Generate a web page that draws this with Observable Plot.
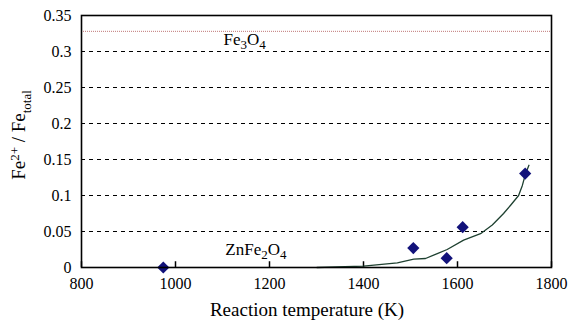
<!DOCTYPE html>
<html>
<head>
<meta charset="utf-8">
<script src="https://cdn.jsdelivr.net/npm/d3@7"></script>
<script src="https://cdn.jsdelivr.net/npm/@observablehq/plot@0.6"></script>
<style>
  html, body { margin: 0; padding: 0; background: white; }
  #chart svg { display: block; }
  #chart svg, #chart svg text, #chart svg tspan { font-family: "Liberation Serif", "Times New Roman", serif !important; }
</style>
</head>
<body>
<div id="chart"></div>
<script>
// Measured points (reaction temperature K, Fe2+/Fetotal)
const pointTemps = [974, 1506, 1577, 1611, 1744];
const pointValues = [0.0, 0.027, 0.013, 0.056, 0.1305];

// Model curve
const curveTemps = [1301, 1400, 1472, 1507, 1532, 1557, 1578, 1613, 1649, 1674, 1698, 1713, 1730, 1738, 1745, 1752];
const curveValues = [0.0, 0.0018, 0.0064, 0.0115, 0.0125, 0.0194, 0.025, 0.038, 0.047, 0.059, 0.075, 0.0865, 0.1, 0.114, 0.1305, 0.142];

// Axes
const xTicks = [800, 1000, 1200, 1400, 1600, 1800];
const yTicks = [0, 0.05, 0.1, 0.15, 0.2, 0.25, 0.3, 0.35];
const yTickLabels = ["0", "0.05", "0.1", "0.15", "0.2", "0.25", "0.3", "0.35"];
const gridValues = [0.05, 0.1, 0.15, 0.2, 0.25, 0.3];
const fe3o4Level = [0.328];

// Annotations
const labelNames = ["Fe3O4", "ZnFe2O4"];
const labelTemps = [1102, 1106];
const labelValues = [0.317, 0.0245];

const points = pointTemps.map((t, i) => ({t, v: pointValues[i]}));
const curve = curveTemps.map((t, i) => ({t, v: curveValues[i]}));
const labels = labelNames.map((n, i) => ({n, t: labelTemps[i], v: labelValues[i]}));

const chart = Plot.plot({
  width: 570,
  height: 320,
  marginLeft: 81,
  marginRight: 19,
  marginTop: 15,
  marginBottom: 53,
  style: {fontSize: "16px", background: "white", color: "black"},
  x: {domain: [800, 1800]},
  y: {domain: [0, 0.35]},
  marks: [
    Plot.ruleY(gridValues, {stroke: "black", strokeDasharray: "4,4", strokeWidth: 1}),
    Plot.ruleY(fe3o4Level, {stroke: "#c07878", strokeDasharray: "1,1", strokeWidth: 1}),
    Plot.ruleX(xTicks, {x: d => d, y1: 0, y2: 0.008, stroke: "black", strokeWidth: 1.5}),
    Plot.line(curve, {x: "t", y: "v", stroke: "#1e4030", strokeWidth: 1.3}),
    Plot.dot(points, {x: "t", y: "v", symbol: "diamond2", r: 5.5, fill: "#12127a", stroke: "none"}),
    Plot.text(labels, {x: "t", y: "v", text: "n", textAnchor: "start", fontSize: 17, fill: "black"}),
    Plot.axisX({ticks: xTicks, tickSize: 0, tickPadding: 10, label: null, tickFormat: d => String(d)}),
    Plot.axisY({ticks: yTicks, tickFormat: (d, i) => yTickLabels[i], tickSize: 0, tickPadding: 10, label: null}),
    Plot.frame({stroke: "black", strokeWidth: 1.6})
  ]
});

document.getElementById("chart").appendChild(chart);

const svg = d3.select(chart);
// Chemical-formula sub/superscripts in annotations
const formulas = {
  "Fe3O4": [["Fe", 0], ["3", 1], ["O", 0], ["4", 1]],
  "ZnFe2O4": [["ZnFe", 0], ["2", 1], ["O", 0], ["4", 1]]
};
function fillParts(textSel, parts, subSize, shift) {
  textSel.text(null);
  let cur = 0;
  parts.forEach(([s, kind]) => {
    const target = kind === 1 ? shift : kind === -1 ? -shift : 0;
    const ts = textSel.append("tspan").attr("dy", target - cur).text(s);
    if (kind !== 0) ts.attr("font-size", subSize);
    cur = target;
  });
}
svg.selectAll("text").each(function() {
  const t = this.textContent;
  if (formulas[t]) fillParts(d3.select(this), formulas[t], 13, 4);
});

// Axis titles
const yTitle = svg.append("text")
  .attr("transform", "translate(25,135) rotate(-90)")
  .attr("text-anchor", "middle")
  .attr("font-size", 19)
  .attr("fill", "black");
fillParts(yTitle, [["Fe", 0], ["2+", -1], [" / Fe", 0], ["total", 1]], 13, 6);

svg.append("text")
  .attr("x", 307)
  .attr("y", 316)
  .attr("text-anchor", "middle")
  .attr("font-size", 19)
  .attr("fill", "black")
  .text("Reaction temperature (K)");
</script>
</body>
</html>
